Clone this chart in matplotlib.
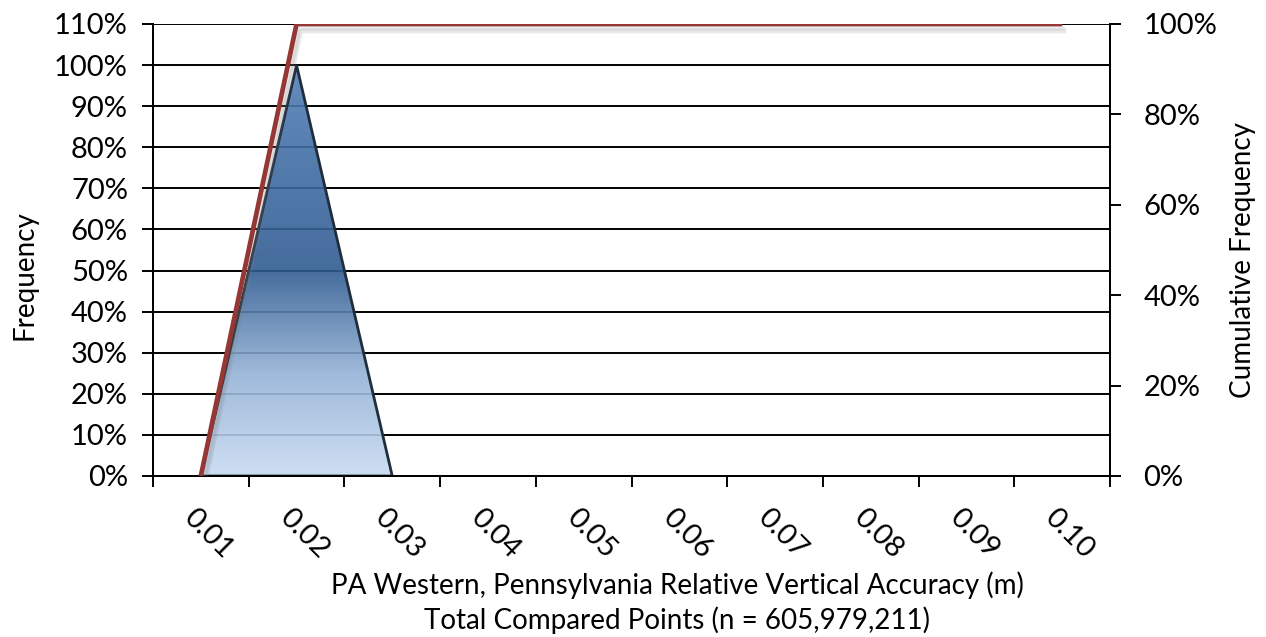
import matplotlib
matplotlib.use("Agg")
import matplotlib.pyplot as plt
import matplotlib.patheffects as pe
import numpy as np
from matplotlib.colors import LinearSegmentedColormap
from matplotlib.patches import Polygon

plt.rcParams["font.family"] = ["Lato", "DejaVu Sans"]

# data
categories = ["0.01", "0.02", "0.03", "0.04", "0.05", "0.06", "0.07", "0.08", "0.09", "0.10"]
frequency = [0.0, 1.0, 0.0, 0.0, 0.0, 0.0, 0.0, 0.0, 0.0, 0.0]
cumulative = [0.0, 1.0, 1.0, 1.0, 1.0, 1.0, 1.0, 1.0, 1.0, 1.0]
left_ticks = [i / 10 for i in range(12)]
right_ticks = [0.0, 0.2, 0.4, 0.6, 0.8, 1.0]

FS_TICK = 21
FS_LAB = 20
W, H = 1266, 637
x = np.arange(len(categories))

fig = plt.figure(figsize=(W / 100, H / 100), dpi=100)
ax = fig.add_axes([153 / W, 1 - 476 / H, (1110 - 153) / W, (476 - 24) / H])
ax.set_xlim(-0.5, len(categories) - 0.5)
ax.set_ylim(0, 1.1)

# gridlines
for t in left_ticks:
    ax.axhline(t, color="black", lw=1.4, zorder=1)

# frequency area with a vertical gradient (gridlines show faintly through it)
last = max(i for i, v in enumerate(frequency) if v > 0) + 1
poly_pts = np.column_stack([x[: last + 1], frequency[: last + 1]])
poly_pts = np.vstack([[x[0], 0], poly_pts, [x[last], 0]])
poly = Polygon(poly_pts, closed=True, facecolor="none", edgecolor="#1f2d3d", lw=2.0, zorder=3)
ax.add_patch(poly)
cmap = LinearSegmentedColormap.from_list(
    "g", [(0.0, "#c8dbf2"), (0.25, "#94b2d6"), (0.5, "#305c91"), (0.75, "#3f6ca3"), (1.0, "#5380b6")])
grad = np.linspace(0, 1, 256).reshape(-1, 1)
im = ax.imshow(grad, extent=[x[0], x[last], 0, max(frequency)], origin="lower",
               aspect="auto", cmap=cmap, zorder=2, alpha=0.9)
im.set_clip_path(poly)

# cumulative line on secondary axis
ax2 = ax.twinx()
ax2.set_ylim(0, 1.0)
ax2.plot(x, cumulative, color="#953735", lw=3.4, zorder=5, solid_capstyle="butt",
         path_effects=[pe.SimpleLineShadow(offset=(3, -5), shadow_color="gray", alpha=0.18),
                       pe.SimpleLineShadow(offset=(2, -3), shadow_color="gray", alpha=0.15),
                       pe.Normal()])

# ticks
ax.set_yticks(left_ticks)
ax.set_yticklabels([f"{int(round(t * 100))}%" for t in left_ticks], fontsize=FS_TICK)
ax2.set_yticks(right_ticks)
ax2.set_yticklabels([f"{int(round(t * 100))}%" for t in right_ticks], fontsize=FS_TICK)
ax.set_xticks(np.arange(-0.5, len(categories), 1.0))
ax.set_xticklabels([])
ax.set_xticks(x - 0.04, minor=True)
ax.set_xticklabels(categories, minor=True, rotation=-45, ha="left", va="top",
                   rotation_mode="anchor", fontsize=FS_TICK)
ax.tick_params(axis="x", which="minor", length=0, pad=20)
ax.tick_params(axis="x", which="major", length=8, width=1.4, direction="out")
ax.tick_params(axis="y", length=8, width=1.4, direction="out", pad=10)
ax2.tick_params(axis="y", length=8, width=1.4, direction="out", pad=16)

for a in (ax, ax2):
    a.spines["top"].set_visible(False)
    for s in ("left", "right", "bottom"):
        a.spines[s].set_linewidth(1.4)

# axis titles placed in figure pixels
fig.text(25 / W, 1 - 275 / H, "Frequency", fontsize=FS_LAB, rotation=90,
         ha="center", va="center")
fig.text(1243 / W, 1 - 260 / H, "Cumulative Frequency", fontsize=FS_LAB, rotation=90,
         ha="center", va="center")
fig.text(677 / W, 1 - 585 / H, "PA Western, Pennsylvania Relative Vertical Accuracy (m)",
         fontsize=FS_LAB, ha="center", va="center")
fig.text(677 / W, 1 - 620 / H, "Total Compared Points (n = 605,979,211)",
         fontsize=FS_LAB, ha="center", va="center")

fig.savefig("out.png", dpi=100)
